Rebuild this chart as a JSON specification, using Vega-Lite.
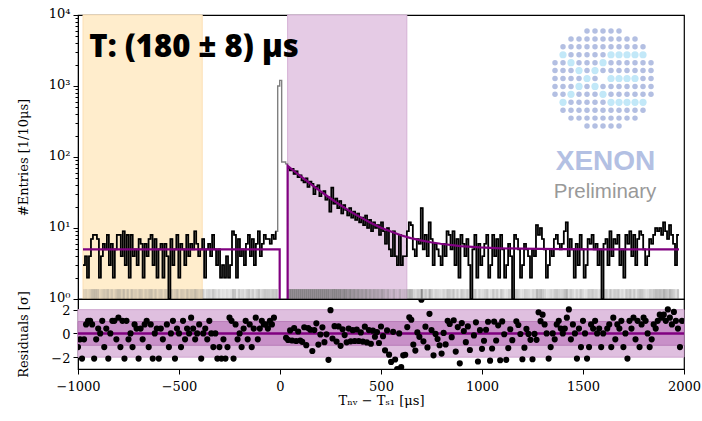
{
"$schema": "https://vega.github.io/schema/vega-lite/v6.json",
"padding": {"left": 16, "top": 6, "right": 5, "bottom": 5},
"background": "white",
"bounds": "flush",
"spacing": 0,
"config": {
  "view": {"stroke": "#000", "strokeWidth": 1.2},
  "font": "DejaVu Serif",
  "axis": {"labelFont": "DejaVu Serif", "titleFont": "DejaVu Serif", "labelFontSize": 13, "titleFontSize": 13, "titleFontWeight": "normal", "labelColor": "#000", "titleColor": "#000", "tickColor": "#000", "domainColor": "#000", "grid": false, "tickSize": 5, "labelPadding": 3, "labelOverlap": false, "labelFlush": false}
},
"datasets": {
"h": [
{"t":-1000,"n":3,"r":-1.15},{"t":-990,"n":4,"r":-0.5},{"t":-980,"n":2,"r":-2.12},{"t":-970,"n":4,"r":-0.5},{"t":-960,"n":7,"r":0.76},{"t":-950,"n":8,"r":1.06},{"t":-940,"n":8,"r":1.06},{"t":-930,"n":7,"r":0.76},{"t":-920,"n":2,"r":-2.12},{"t":-910,"n":4,"r":-0.5},
{"t":-900,"n":6,"r":0.41},{"t":-890,"n":5,"r":0},{"t":-880,"n":8,"r":1.06},{"t":-870,"n":3,"r":-1.15},{"t":-860,"n":6,"r":0.41},{"t":-850,"n":2,"r":-2.12},{"t":-840,"n":5,"r":0},{"t":-830,"n":8,"r":1.06},{"t":-820,"n":8,"r":1.06},{"t":-810,"n":4,"r":-0.5},
{"t":-800,"n":9,"r":1.33},{"t":-790,"n":3,"r":-1.15},{"t":-780,"n":8,"r":1.06},{"t":-770,"n":2,"r":-2.12},{"t":-760,"n":8,"r":1.06},{"t":-750,"n":4,"r":-0.5},{"t":-740,"n":5,"r":0},{"t":-730,"n":3,"r":-1.15},{"t":-720,"n":7,"r":0.76},{"t":-710,"n":6,"r":0.41},
{"t":-700,"n":2,"r":-2.12},{"t":-690,"n":6,"r":0.41},{"t":-680,"n":4,"r":-0.5},{"t":-670,"n":7,"r":0.76},{"t":-660,"n":8,"r":1.06},{"t":-650,"n":3,"r":-1.15},{"t":-640,"n":7,"r":0.76},{"t":-630,"n":2,"r":-2.12},{"t":-620,"n":5,"r":0},{"t":-610,"n":6,"r":0.41},
{"t":-600,"n":2,"r":-2.12},{"t":-590,"n":6,"r":0.41},{"t":-580,"n":4,"r":-0.5},{"t":-570,"n":1,"r":-4},{"t":-560,"n":7,"r":0.76},{"t":-550,"n":3,"r":-1.15},{"t":-540,"n":5,"r":0},{"t":-530,"n":8,"r":1.06},{"t":-520,"n":2,"r":-2.12},{"t":-510,"n":6,"r":0.41},
{"t":-500,"n":5,"r":0},{"t":-490,"n":3,"r":-1.15},{"t":-480,"n":8,"r":1.06},{"t":-470,"n":4,"r":-0.5},{"t":-460,"n":6,"r":0.41},{"t":-450,"n":5,"r":0},{"t":-440,"n":9,"r":1.33},{"t":-430,"n":6,"r":0.41},{"t":-420,"n":4,"r":-0.5},{"t":-410,"n":5,"r":0},
{"t":-400,"n":7,"r":0.76},{"t":-390,"n":2,"r":-2.12},{"t":-380,"n":5,"r":0},{"t":-370,"n":6,"r":0.41},{"t":-360,"n":4,"r":-0.5},{"t":-350,"n":8,"r":1.06},{"t":-340,"n":5,"r":0},{"t":-330,"n":3,"r":-1.15},{"t":-320,"n":5,"r":0},{"t":-310,"n":2,"r":-2.12},
{"t":-300,"n":3,"r":-1.15},{"t":-290,"n":2,"r":-2.12},{"t":-280,"n":4,"r":-0.5},{"t":-270,"n":2,"r":-2.12},{"t":-260,"n":3,"r":-1.15},{"t":-250,"n":9,"r":1.33},{"t":-240,"n":8,"r":1.06},{"t":-230,"n":2,"r":-2.12},{"t":-220,"n":7,"r":0.76},{"t":-210,"n":4,"r":-0.5},
{"t":-200,"n":5,"r":0},{"t":-190,"n":3,"r":-1.15},{"t":-180,"n":6,"r":0.41},{"t":-170,"n":8,"r":1.06},{"t":-160,"n":4,"r":-0.5},{"t":-150,"n":7,"r":0.76},{"t":-140,"n":3,"r":-1.15},{"t":-130,"n":6,"r":0.41},{"t":-120,"n":9,"r":1.33},{"t":-110,"n":4,"r":-0.5},
{"t":-100,"n":6,"r":0.41},{"t":-90,"n":8,"r":1.06},{"t":-80,"n":7,"r":0.76},{"t":-70,"n":7,"r":0.76},{"t":-60,"n":6,"r":0.41},{"t":-50,"n":8,"r":1.06},{"t":-40,"n":7,"r":0.76},{"t":-30,"n":9,"r":1.33},
{"t":-20,"n":1000},{"t":-10,"n":1200},{"t":0,"n":85},{"t":10,"n":85},{"t":20,"n":80},
{"t":30,"n":70,"r":-0.37},{"t":40,"n":65,"r":-0.55},{"t":50,"n":68,"r":0.25},{"t":60,"n":58,"r":-0.6},{"t":70,"n":63,"r":0.44},{"t":80,"n":52,"r":-0.64},{"t":90,"n":55,"r":0.16},
{"t":100,"n":47,"r":-0.6},{"t":110,"n":44,"r":-0.71},{"t":120,"n":50,"r":0.52},{"t":130,"n":38,"r":-0.99},{"t":140,"n":45,"r":0.45},{"t":150,"n":42,"r":0.31},{"t":160,"n":30,"r":-1.48},{"t":170,"n":38,"r":0.28},{"t":180,"n":40,"r":0.85},{"t":190,"n":28,"r":-0.94},
{"t":200,"n":31,"r":-0.09},{"t":210,"n":33,"r":0.51},{"t":220,"n":25,"r":-0.74},{"t":230,"n":27,"r":-0.08},{"t":240,"n":17,"r":-2.23},{"t":250,"n":37,"r":1.96},{"t":260,"n":22,"r":-0.43},{"t":270,"n":26,"r":0.61},{"t":280,"n":19,"r":-0.69},{"t":290,"n":24,"r":0.59},
{"t":300,"n":16,"r":-1.05},{"t":310,"n":21,"r":0.35},{"t":320,"n":18,"r":-0.14},{"t":330,"n":15,"r":-0.75},{"t":340,"n":19,"r":0.41},{"t":350,"n":14,"r":-0.67},{"t":360,"n":17,"r":0.27},{"t":370,"n":13,"r":-0.64},{"t":380,"n":16,"r":0.33},{"t":390,"n":12,"r":-0.64},
{"t":400,"n":14,"r":0.08},{"t":410,"n":11,"r":-0.69},{"t":420,"n":15,"r":0.57},{"t":430,"n":10,"r":-0.76},{"t":440,"n":13,"r":0.28},{"t":450,"n":9,"r":-0.87},{"t":460,"n":12,"r":0.23},{"t":470,"n":10,"r":-0.28},{"t":480,"n":11,"r":0.12},{"t":490,"n":8,"r":-0.81},
{"t":500,"n":12,"r":0.58},{"t":510,"n":9,"r":-0.23},{"t":520,"n":6,"r":-1.43},{"t":530,"n":10,"r":0.25},{"t":540,"n":5,"r":-1.79},{"t":550,"n":4,"r":-2.4},{"t":560,"n":9,"r":0.13},{"t":570,"n":4,"r":-2.2},{"t":580,"n":3,"r":-3.0},{"t":590,"n":8,"r":0},
{"t":600,"n":3,"r":-2.83},{"t":610,"n":4,"r":-1.85},{"t":620,"n":4,"r":-1.8},{"t":630,"n":9,"r":0.53},{"t":640,"n":12,"r":1.36},{"t":650,"n":11,"r":1.15},{"t":660,"n":5,"r":-0.94},{"t":670,"n":4,"r":-1.45},{"t":680,"n":7,"r":0.08},{"t":690,"n":6,"r":-0.29},
{"t":700,"n":19,"r":2.84},{"t":710,"n":5,"r":-0.67},{"t":720,"n":8,"r":0.57},{"t":730,"n":4,"r":-1.18},{"t":740,"n":12,"r":1.65},{"t":750,"n":7,"r":0.28},{"t":760,"n":3,"r":-1.85},{"t":770,"n":6,"r":-0.04},{"t":780,"n":5,"r":-0.47},{"t":790,"n":4,"r":-1.0},
{"t":800,"n":3,"r":-1.7},{"t":810,"n":6,"r":0.04},{"t":820,"n":4,"r":-0.93},{"t":830,"n":9,"r":1.07},{"t":840,"n":8,"r":0.8},{"t":850,"n":5,"r":-0.32},{"t":860,"n":9,"r":1.11},{"t":870,"n":3,"r":-1.53},{"t":880,"n":7,"r":0.53},{"t":890,"n":2,"r":-2.52},
{"t":900,"n":8,"r":0.87},{"t":910,"n":6,"r":0.2},{"t":920,"n":4,"r":-0.74},{"t":930,"n":7,"r":0.59},{"t":940,"n":3,"r":-1.4},{"t":950,"n":1,"r":-4.4},{"t":960,"n":5,"r":-0.17},{"t":970,"n":8,"r":0.93},{"t":980,"n":2,"r":-2.37},{"t":990,"n":6,"r":0.27},
{"t":1000,"n":3,"r":-1.3},{"t":1010,"n":4,"r":-0.62},{"t":1020,"n":6,"r":0.31},{"t":1030,"n":8,"r":0.98},{"t":1040,"n":2,"r":-2.3},{"t":1050,"n":3,"r":-1.27},{"t":1060,"n":8,"r":1.0},{"t":1070,"n":4,"r":-0.6},{"t":1080,"n":7,"r":0.68},{"t":1090,"n":2,"r":-2.26},
{"t":1100,"n":8,"r":1.01},{"t":1110,"n":5,"r":-0.07},{"t":1120,"n":2,"r":-2.23},{"t":1130,"n":3,"r":-1.24},{"t":1140,"n":6,"r":0.35},{"t":1150,"n":4,"r":-0.57},{"t":1160,"n":1,"r":-4.1},{"t":1170,"n":8,"r":1.02},{"t":1180,"n":7,"r":0.71},{"t":1190,"n":5,"r":-0.05},
{"t":1200,"n":2,"r":-2.18},{"t":1210,"n":3,"r":-1.2},{"t":1220,"n":6,"r":0.38},{"t":1230,"n":5,"r":-0.04},{"t":1240,"n":4,"r":-0.54},{"t":1250,"n":2,"r":-2.18},{"t":1260,"n":5,"r":-0.04},{"t":1270,"n":4,"r":-0.54},{"t":1280,"n":11,"r":1.78},{"t":1290,"n":8,"r":1.03},
{"t":1300,"n":10,"r":1.58},{"t":1310,"n":7,"r":0.76},{"t":1320,"n":5,"r":0},{"t":1330,"n":2,"r":-2.12},{"t":1340,"n":3,"r":-1.15},{"t":1350,"n":5,"r":0},{"t":1360,"n":4,"r":-0.5},{"t":1370,"n":7,"r":0.76},{"t":1380,"n":8,"r":1.06},{"t":1390,"n":6,"r":0.41},
{"t":1400,"n":5,"r":0},{"t":1410,"n":6,"r":0.41},{"t":1420,"n":9,"r":1.33},{"t":1430,"n":12,"r":2.02},{"t":1440,"n":4,"r":-0.5},{"t":1450,"n":7,"r":0.76},{"t":1460,"n":5,"r":0},{"t":1470,"n":2,"r":-2.12},{"t":1480,"n":6,"r":0.41},{"t":1490,"n":3,"r":-1.15},
{"t":1500,"n":8,"r":1.06},{"t":1510,"n":5,"r":0},{"t":1520,"n":2,"r":-2.12},{"t":1530,"n":3,"r":-1.15},{"t":1540,"n":7,"r":0.76},{"t":1550,"n":6,"r":0.41},{"t":1560,"n":8,"r":1.06},{"t":1570,"n":5,"r":0},{"t":1580,"n":6,"r":0.41},{"t":1590,"n":3,"r":-1.15},
{"t":1600,"n":5,"r":0},{"t":1610,"n":1,"r":-4},{"t":1620,"n":6,"r":0.41},{"t":1630,"n":7,"r":0.76},{"t":1640,"n":3,"r":-1.15},{"t":1650,"n":9,"r":1.33},{"t":1660,"n":4,"r":-0.5},{"t":1670,"n":7,"r":0.76},{"t":1680,"n":6,"r":0.41},{"t":1690,"n":8,"r":1.06},
{"t":1700,"n":3,"r":-1.15},{"t":1710,"n":5,"r":0},{"t":1720,"n":2,"r":-2.12},{"t":1730,"n":8,"r":1.06},{"t":1740,"n":6,"r":0.41},{"t":1750,"n":9,"r":1.33},{"t":1760,"n":4,"r":-0.5},{"t":1770,"n":8,"r":1.06},{"t":1780,"n":3,"r":-1.15},{"t":1790,"n":7,"r":0.76},
{"t":1800,"n":9,"r":1.33},{"t":1810,"n":8,"r":1.06},{"t":1820,"n":5,"r":0},{"t":1830,"n":3,"r":-1.15},{"t":1840,"n":4,"r":-0.5},{"t":1850,"n":7,"r":0.76},{"t":1860,"n":6,"r":0.41},{"t":1870,"n":8,"r":1.06},{"t":1880,"n":10,"r":1.58},{"t":1890,"n":9,"r":1.33},
{"t":1900,"n":10,"r":1.58},{"t":1910,"n":8,"r":1.06},{"t":1920,"n":12,"r":2.02},{"t":1930,"n":9,"r":1.33},{"t":1940,"n":7,"r":0.76},{"t":1950,"n":11,"r":1.81},{"t":1960,"n":8,"r":1.06},{"t":1970,"n":6,"r":0.41},{"t":1980,"n":3,"r":-1.15},{"t":1990,"n":8,"r":1.06},
{"t":2000,"n":8}
],
"fit": [
{"t":-1000,"f":5,"s":"a"},{"t":-10,"f":5,"s":"a"},{"t":-10,"f":0.1,"s":"a"},
{"t":30,"f":0.1,"s":"b"},{"t":30,"f":75,"s":"b"},{"t":50,"f":67.6,"s":"b"},{"t":75,"f":59.5,"s":"b"},{"t":100,"f":52.4,"s":"b"},{"t":125,"f":46.3,"s":"b"},{"t":150,"f":40.9,"s":"b"},{"t":175,"f":36.3,"s":"b"},{"t":200,"f":32.2,"s":"b"},{"t":225,"f":28.7,"s":"b"},{"t":250,"f":25.6,"s":"b"},{"t":275,"f":22.9,"s":"b"},{"t":300,"f":20.6,"s":"b"},{"t":325,"f":18.6,"s":"b"},{"t":350,"f":16.8,"s":"b"},{"t":375,"f":15.3,"s":"b"},{"t":400,"f":14.0,"s":"b"},{"t":450,"f":11.8,"s":"b"},{"t":500,"f":10.1,"s":"b"},{"t":550,"f":8.9,"s":"b"},{"t":600,"f":7.9,"s":"b"},{"t":650,"f":7.2,"s":"b"},{"t":700,"f":6.7,"s":"b"},{"t":750,"f":6.3,"s":"b"},{"t":800,"f":6.0,"s":"b"},{"t":900,"f":5.56,"s":"b"},{"t":1000,"f":5.32,"s":"b"},{"t":1100,"f":5.18,"s":"b"},{"t":1200,"f":5.11,"s":"b"},{"t":1400,"f":5.03,"s":"b"},{"t":1600,"f":5.01,"s":"b"},{"t":2000,"f":5.0,"s":"b"}
],
"logo": [
{"r":-6,"c":[-2,-1,0,1,2]},
{"r":-5,"c":[-4,-3,-2,-1,0,1,2,3,4]},
{"r":-4,"c":[-5,-4,-3,-2,-1,0,1,2,3,4,5]},
{"r":-3,"c":[-5,-4,-3,-2,-1,0,1,2,3,4,5]},
{"r":-2,"c":[-6,-5,-4,-3,-2,-1,0,1,2,3,4,5,6]},
{"r":-1,"c":[-6,-5,-4,-3,-2,-1,0,1,2,3,4,5,6]},
{"r":0,"c":[-6,-5,-4,-3,-2,-1,1,2,3,4,5,6]},
{"r":1,"c":[-6,-5,-4,-3,-2,-1,0,1,2,3,4,5,6]},
{"r":2,"c":[-6,-5,-4,-3,-2,-1,0,1,2,3,4,5,6]},
{"r":3,"c":[-5,-4,-3,-2,-1,0,1,2,3,4,5]},
{"r":4,"c":[-5,-4,-3,-2,-1,0,1,2,3,4,5]},
{"r":5,"c":[-4,-3,-2,-1,0,1,2,3,4]},
{"r":6,"c":[-2,-1,0,1,2]}
],
"logoc": [
{"r":-3,"c":[-5,1,2,3,4,5]},
{"r":-2,"c":[-4,0]},
{"r":-1,"c":[-3,-1]},
{"r":0,"c":[-2,1,2,3,4]},
{"r":1,"c":[-3,-1]},
{"r":2,"c":[-4,0]},
{"r":3,"c":[-5,1,2,3,4,5]}
]
},
"vconcat": [
{
  "width": 606, "height": 284,
  "layer": [
    {
      "layer": [
        {
          "data": {"values": [{"a": -1000, "b": -400}]},
          "mark": {"type": "rect", "color": "#ffedcc", "stroke": "#fde0b4", "strokeWidth": 1},
          "encoding": {
            "x": {"field": "a", "type": "quantitative", "scale": {"domain": [-1000, 2000], "nice": false, "zero": false}, "axis": null},
            "x2": {"field": "b"},
            "y": {"datum": 1, "type": "quantitative", "title": "#Entries [1/10μs]", "scale": {"type": "log", "domain": [1, 10000], "nice": false},
                  "axis": {"title": "#Entries [1/10μs]", "values": [1,2,3,4,5,6,7,8,9,10,20,30,40,50,60,70,80,90,100,200,300,400,500,600,700,800,900,1000,2000,3000,4000,5000,6000,7000,8000,9000,10000],
                           "labelExpr": "datum.value==1?'10⁰':datum.value==10?'10¹':datum.value==100?'10²':datum.value==1000?'10³':datum.value==10000?'10⁴':''",
                           "tickSize": {"condition": {"test": "indexof([1,10,100,1000,10000], datum.value) >= 0", "value": 5}, "value": 3},
                           "minExtent": 40, "maxExtent": 40, "titlePadding": 8, "labelFontSize": 13, "labelOffset": -2}},
            "y2": {"datum": 10000}
          }
        },
        {
          "data": {"values": [{"a": 30, "b": 630}]},
          "mark": {"type": "rect", "color": "#e5cbe5", "stroke": "#d5b0d5", "strokeWidth": 1},
          "encoding": {
            "x": {"field": "a", "type": "quantitative", "axis": null},
            "x2": {"field": "b"},
            "y": {"datum": 1, "type": "quantitative", "title": "#Entries [1/10μs]"},
            "y2": {"datum": 10000}
          }
        },
        {
          "data": {"name": "h"},
          "transform": [{"filter": "isValid(datum.r)"}],
          "mark": {"type": "bar", "color": "#7a7a7a", "width": 2.1, "xOffset": 1, "clip": true},
          "encoding": {
            "x": {"field": "t", "type": "quantitative", "axis": null},
            "y": {"datum": 1, "type": "quantitative", "title": "#Entries [1/10μs]"},
            "y2": {"datum": 1.38},
            "opacity": {"field": "n", "type": "quantitative", "scale": {"domain": [1, 20], "range": [0.15, 0.9], "clamp": true}, "legend": null}
          }
        },
        {
          "data": {"name": "h"},
          "mark": {"type": "line", "interpolate": "step-after", "color": "#808080", "strokeWidth": 1.4, "clip": true},
          "encoding": {
            "x": {"field": "t", "type": "quantitative", "axis": null},
            "y": {"field": "n", "type": "quantitative", "title": "#Entries [1/10μs]"},
            "order": {"value": null}
          }
        },
        {
          "data": {"name": "h"},
          "transform": [{"filter": "datum.t <= -30"}],
          "mark": {"type": "line", "interpolate": "step-after", "color": "#000", "strokeWidth": 1.7, "clip": true},
          "encoding": {
            "x": {"field": "t", "type": "quantitative", "axis": null},
            "y": {"field": "n", "type": "quantitative", "title": "#Entries [1/10μs]"},
            "order": {"value": null}
          }
        },
        {
          "data": {"name": "h"},
          "transform": [{"filter": "datum.t >= 30"}],
          "mark": {"type": "line", "interpolate": "step-after", "color": "#000", "strokeWidth": 1.7, "clip": true},
          "encoding": {
            "x": {"field": "t", "type": "quantitative", "axis": null},
            "y": {"field": "n", "type": "quantitative", "title": "#Entries [1/10μs]"},
            "order": {"value": null}
          }
        },
        {
          "data": {"name": "fit"},
          "mark": {"type": "line", "color": "#800080", "strokeWidth": 2.2, "clip": true},
          "encoding": {
            "x": {"field": "t", "type": "quantitative", "axis": null},
            "y": {"field": "f", "type": "quantitative", "title": "#Entries [1/10μs]"},
            "detail": {"field": "s"},
            "order": {"value": null}
          }
        },
        {
          "data": {"values": [{"t": -968, "y": 2570, "label": "T: (180 ± 8) μs"}]},
          "mark": {"type": "text", "align": "left", "baseline": "alphabetic", "font": "Open Sans", "fontWeight": 800, "fontSize": 31, "color": "#000"},
          "encoding": {
            "x": {"field": "t", "type": "quantitative", "axis": null},
            "y": {"field": "y", "type": "quantitative", "title": "#Entries [1/10μs]"},
            "text": {"field": "label"}
          }
        },
        {
          "data": {"values": [{"t": 1630, "y": 65.6, "label": "XENON"}]},
          "mark": {"type": "text", "align": "center", "baseline": "alphabetic", "font": "Liberation Sans", "fontWeight": "bold", "fontSize": 28, "color": "#b3c0e3"},
          "encoding": {
            "x": {"field": "t", "type": "quantitative", "axis": null},
            "y": {"field": "y", "type": "quantitative", "title": "#Entries [1/10μs]"},
            "text": {"field": "label"}
          }
        },
        {
          "data": {"values": [{"t": 1628, "y": 26.5, "label": "Preliminary"}]},
          "mark": {"type": "text", "align": "center", "baseline": "alphabetic", "font": "Liberation Sans", "fontSize": 20.5, "color": "#999999"},
          "encoding": {
            "x": {"field": "t", "type": "quantitative", "axis": null},
            "y": {"field": "y", "type": "quantitative", "title": "#Entries [1/10μs]"},
            "text": {"field": "label"}
          }
        }
      ]
    },
    {
      "layer": [
        {
          "data": {"name": "logo"},
          "transform": [{"flatten": ["c"]}],
          "mark": {"type": "circle", "color": "#b3bfe2", "opacity": 1, "size": 30},
          "encoding": {
            "x": {"field": "c", "type": "quantitative", "scale": {"domain": [-65.625, 10.125], "nice": false, "zero": false}, "axis": null},
            "y": {"field": "r", "type": "quantitative", "scale": {"domain": [-8.02, 27.84], "nice": false, "zero": false, "reverse": true}, "axis": null}
          }
        },
        {
          "data": {"name": "logoc"},
          "transform": [{"flatten": ["c"]}],
          "mark": {"type": "circle", "color": "#c2e8f8", "opacity": 1, "size": 52},
          "encoding": {
            "x": {"field": "c", "type": "quantitative", "axis": null},
            "y": {"field": "r", "type": "quantitative", "axis": null}
          }
        }
      ]
    }
  ],
  "resolve": {"scale": {"x": "independent", "y": "independent"}}
},
{
  "width": 606, "height": 70,
  "layer": [
    {
      "data": {"values": [{"a": -1000, "b": 2000, "lo": -2, "hi": 2}]},
      "mark": {"type": "rect", "color": "#dfbfdf", "stroke": "#cfa5cf", "strokeWidth": 1},
      "encoding": {
        "x": {"field": "a", "type": "quantitative", "scale": {"domain": [-1000, 2000], "nice": false, "zero": false},
              "axis": {"values": [-1000, -500, 0, 500, 1000, 1500, 2000], "format": "d", "title": "Tₙᵥ − Tₛ₁ [μs]", "titlePadding": 1, "labelPadding": 6}},
        "x2": {"field": "b"},
        "y": {"field": "lo", "type": "quantitative", "title": "Residuals [σ]", "scale": {"domain": [-3, 2.9], "nice": false, "zero": false},
              "axis": {"tickCount": 3, "format": "d", "labelOverlap": false, "title": "Residuals [σ]", "minExtent": 40, "maxExtent": 40, "titlePadding": 8, "labelOffset": 1}},
        "y2": {"field": "hi"}
      }
    },
    {
      "data": {"values": [{"a": -1000, "b": 2000, "lo": -1, "hi": 1}]},
      "mark": {"type": "rect", "color": "#c890c8", "stroke": "#b97db9", "strokeWidth": 1},
      "encoding": {
        "x": {"field": "a", "type": "quantitative"},
        "x2": {"field": "b"},
        "y": {"field": "lo", "type": "quantitative", "title": "Residuals [σ]"},
        "y2": {"field": "hi"}
      }
    },
    {
      "data": {"values": [{"a": -1000, "b": 2000, "z": 0}]},
      "mark": {"type": "rule", "color": "#800080", "strokeWidth": 2.5},
      "encoding": {
        "x": {"field": "a", "type": "quantitative"},
        "x2": {"field": "b"},
        "y": {"field": "z", "type": "quantitative", "title": "Residuals [σ]"}
      }
    },
    {
      "data": {"name": "h"},
      "transform": [{"filter": "isValid(datum.r)"}],
      "mark": {"type": "circle", "color": "#000", "opacity": 1, "size": 38, "clip": true},
      "encoding": {
        "x": {"field": "t", "type": "quantitative"},
        "y": {"field": "r", "type": "quantitative", "title": "Residuals [σ]"}
      }
    }
  ]
}
]
}
